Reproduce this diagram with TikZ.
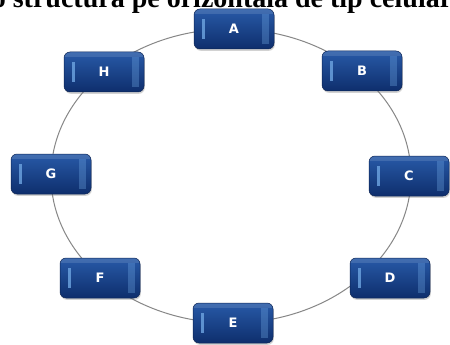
\documentclass[tikz,border=0pt]{standalone}
\usepackage{fontspec}
\setmainfont{Liberation Serif}
\newfontfamily\boxfont{DejaVu Sans}
\usetikzlibrary{shadows}
\definecolor{kbTop}{RGB}{40,90,168}
\definecolor{kbBot}{RGB}{14,46,108}
\definecolor{kbEdge}{RGB}{12,36,84}
\definecolor{kbLight}{RGB}{110,165,225}
\definecolor{ringcol}{RGB}{135,135,135}
\tikzset{
  keybox/.style={rounded corners=6pt, minimum width=80pt, minimum height=40pt,
    top color=kbTop, bottom color=kbBot, draw=kbEdge, line width=0.5pt,
    text=white, font=\boxfont\bfseries\fontsize{13}{13}\selectfont,
    drop shadow={shadow xshift=0.8pt, shadow yshift=-1.8pt, opacity=0.35},
    path picture={
      \fill[kbLight, opacity=0.8, sharp corners] ([xshift=8pt,yshift=-10pt]path picture bounding box.north west) rectangle ([xshift=11pt,yshift=10pt]path picture bounding box.south west);
      \fill[kbLight, opacity=0.35, sharp corners] ([xshift=-12pt,yshift=-5pt]path picture bounding box.north east) rectangle ([xshift=-5pt,yshift=5pt]path picture bounding box.south east);
      \fill[white, opacity=0.12, sharp corners] (path picture bounding box.north west) rectangle ([yshift=-5pt]path picture bounding box.north east);
    }},
  ring/.style={draw=ringcol, line width=1pt},
  titletext/.style={font=\bfseries\fontsize{28}{28}\selectfont, inner sep=0pt}
}
\begin{document}
\begin{tikzpicture}[x=1pt,y=-1pt]
\useasboundingbox (0,0) rectangle (450,345);
\clip (0,0) rectangle (450,345);
\fill[white] (0,0) rectangle (450,345);
\coordinate (ctr) at (231,176);
\draw[ring] (ctr) ellipse [x radius=180, y radius=147];
\node[keybox] (A) at (234,29) {A};
\node[keybox] (B) at (362,71) {B};
\node[keybox] (C) at (409,176) {C};
\node[keybox] (D) at (390,278) {D};
\node[keybox] (E) at (233,323) {E};
\node[keybox] (F) at (100,278) {F};
\node[keybox] (G) at (51,174) {G};
\node[keybox] (H) at (104,72) {H};
\node[titletext, anchor=base] (title) at (222,8) {o structură pe orizontală de tip celular};
\end{tikzpicture}
\end{document}
